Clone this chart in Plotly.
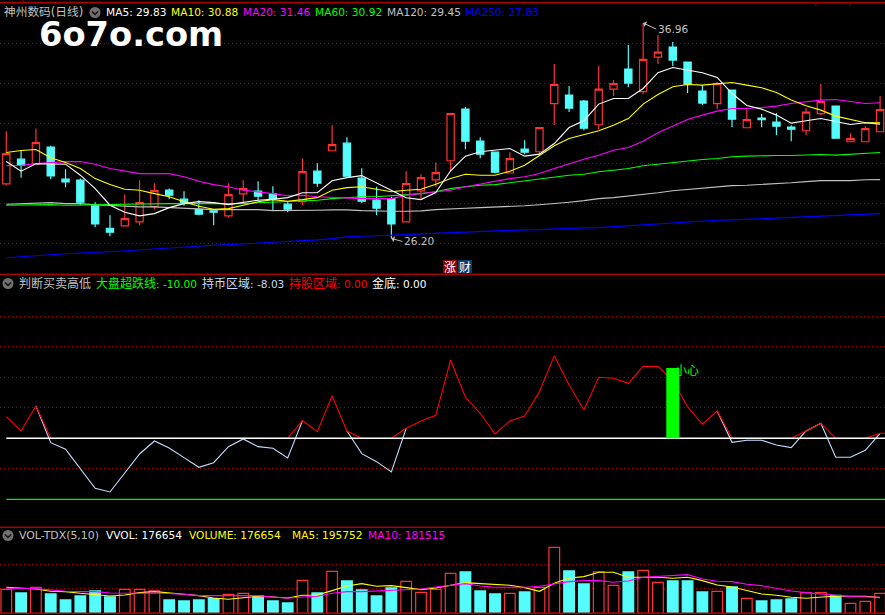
import plotly.graph_objects as go

W, H = 885, 615

open_ = [28.93,30.16,29.93,30.76,29.16,29.11,27.83,26.71,26.83,27.03,27.79,28.61,28.16,27.66,27.58,27.33,28.43,28.56,28.43,27.91,
         28.04,29.56,30.58,30.96,29.21,28.11,28.19,27.03,28.58,29.13,30.08,32.66,31.06,30.51,29.47,30.66,30.53,32.93,33.36,33.06,
         31.88,33.66,34.66,33.53,35.26,35.76,35.01,33.56,32.93,33.61,31.73,32.21,32.01,31.76,31.58,32.43,32.81,31.03,31.03,31.53]
close = [30.44,29.86,30.99,29.33,29.03,28.01,26.93,26.51,27.19,27.99,28.59,28.36,27.98,27.41,27.51,28.39,28.69,28.31,28.19,27.66,
         29.54,28.96,30.89,29.31,28.06,27.71,26.93,28.94,29.24,29.49,32.44,31.06,30.41,29.51,30.19,30.51,31.74,33.89,32.71,31.71,
         33.66,33.94,33.96,35.14,35.51,35.11,33.91,32.96,33.94,32.16,32.14,32.13,31.81,31.66,32.51,33.04,31.21,31.19,31.69,32.64]
high = [31.56,30.58,31.69,30.83,29.66,29.19,28.01,27.36,28.39,29.11,28.96,28.69,28.56,28.11,27.58,28.96,29.11,29.06,28.81,28.01,
        30.19,29.96,31.86,31.26,29.71,28.78,28.28,29.56,29.41,29.99,32.44,32.76,31.26,30.51,30.51,31.11,31.74,34.91,33.81,33.11,
        34.81,34.11,35.86,36.96,36.36,36.01,35.01,33.86,34.01,33.61,32.61,32.41,32.46,31.86,32.71,33.91,32.81,31.46,31.81,33.31]
low = [28.86,29.23,29.93,29.16,28.76,27.86,26.76,26.31,26.83,26.86,27.66,28.16,27.83,27.36,26.86,27.23,27.93,28.11,27.59,27.51,
       27.86,28.78,30.58,29.31,27.96,27.36,26.20,27.03,28.14,28.78,29.53,30.66,30.21,29.44,29.47,30.41,30.41,31.86,32.51,31.61,
       31.66,33.31,33.76,33.41,34.91,34.81,33.46,32.86,32.66,31.76,31.73,31.76,31.36,31.06,31.36,32.36,31.21,31.03,31.03,31.53]

ma5 = [30.04,29.56,29.93,29.93,29.91,29.36,28.69,27.86,27.51,27.33,27.44,27.74,27.94,28.04,27.99,27.89,27.99,28.11,28.16,28.24,
       28.48,28.49,29.08,29.24,29.34,28.98,28.58,28.23,28.14,28.49,29.58,30.31,30.53,30.61,30.69,30.31,30.41,30.94,31.74,32.08,
       32.91,33.19,33.19,33.69,34.48,34.74,34.61,34.48,34.24,33.44,32.84,32.66,32.36,31.96,32.08,32.19,32.04,31.89,31.98,31.91]
ma10 = [30.49,30.59,30.64,30.23,29.99,29.69,29.19,28.89,28.66,28.61,28.44,28.28,28.03,27.81,27.66,27.69,27.86,28.03,28.14,28.06,
        28.14,28.24,28.61,28.74,28.78,28.66,28.53,28.61,28.66,28.91,29.19,29.41,29.36,29.36,29.56,29.86,30.36,30.83,31.19,31.39,
        31.58,31.86,32.19,32.91,33.39,33.78,33.89,33.86,33.94,33.99,33.86,33.73,33.49,33.11,32.83,32.61,32.31,32.14,31.98,31.98]
ma20 = [29.84,29.86,29.94,29.99,30.04,30.04,29.91,29.69,29.58,29.44,29.44,29.44,29.28,29.06,28.89,28.78,28.61,28.53,28.44,28.33,
        28.36,28.28,28.24,28.23,28.19,28.19,28.19,28.36,28.44,28.53,28.61,28.78,28.91,29.03,29.19,29.28,29.44,29.69,29.94,30.16,
        30.36,30.61,30.74,31.06,31.48,31.81,32.14,32.36,32.56,32.69,32.69,32.74,32.81,32.94,33.03,33.11,33.14,33.03,32.94,32.98]
ma60 = [27.86,27.88,27.89,27.89,27.86,27.86,27.88,27.89,27.91,27.93,27.93,27.94,27.94,27.94,27.94,27.94,27.94,27.98,28.01,28.04,
        28.08,28.11,28.19,28.23,28.28,28.28,28.33,28.39,28.44,28.53,28.69,28.78,28.86,28.89,28.98,29.08,29.19,29.28,29.36,29.41,
        29.53,29.61,29.69,29.83,29.91,29.99,30.08,30.14,30.19,30.28,30.31,30.34,30.34,30.34,30.36,30.39,30.36,30.41,30.46,30.49]
ma120 = [27.91,27.94,27.94,27.99,27.94,27.94,27.88,27.84,27.81,27.78,27.78,27.74,27.69,27.66,27.64,27.64,27.64,27.64,27.59,27.59,
         27.59,27.61,27.63,27.63,27.59,27.56,27.56,27.56,27.58,27.64,27.69,27.71,27.74,27.76,27.78,27.83,27.88,27.93,28.01,28.09,
         28.19,28.24,28.31,28.39,28.48,28.58,28.64,28.73,28.78,28.84,28.86,28.89,28.94,28.98,29.04,29.09,29.09,29.09,29.13,29.14]
ma250 = [25.24,25.28,25.33,25.39,25.44,25.49,25.51,25.54,25.59,25.64,25.69,25.74,25.79,25.83,25.86,25.89,25.93,25.96,25.99,26.04,
         26.08,26.13,26.19,26.28,26.31,26.33,26.34,26.39,26.43,26.46,26.49,26.53,26.56,26.58,26.59,26.63,26.64,26.68,26.69,26.73,
         26.74,26.79,26.84,26.89,26.94,26.98,27.03,27.06,27.11,27.13,27.16,27.19,27.21,27.24,27.26,27.31,27.34,27.38,27.41,27.44]
price_ticks = [35.96, 33.96, 31.96, 29.96, 27.96, 25.96]

hold_stock = [3.55,1.20,5.30,0,0,0,0,0,0,0,0,0,0,0,0,0,0,0,0,0,
              2.90,1.09,6.99,1.20,0,0,0,1.64,2.84,3.77,12.84,6.72,4.10,0.71,2.84,3.66,7.65,13.55,8.74,4.64,
              10.00,9.84,9.02,11.80,11.80,9.45,5.19,2.30,4.48,0,0,0,0,0,1.20,2.46,0,0,0,0.82,0.82]
hold_cash = [None,None,5.30,-0.71,-1.80,-5.03,-8.20,-8.80,-5.74,-2.57,-0.44,-1.58,-3.17,-4.75,-3.99,-1.37,-0.11,-1.37,-1.64,-3.22,
             2.90,None,None,1.20,-2.51,-3.83,-5.52,1.64,None,None,None,None,None,None,None,None,None,None,None,None,
             None,None,None,None,None,None,None,None,4.48,-0.66,-0.33,-0.33,-1.09,-1.53,1.20,2.46,-3.11,-3.11,-1.97,0.82]
gold_floor = [0] * 61
oversold = [-10] * 61
caution_x = [45, 45]
caution_y = [0, 11.53]
osc_ticks = [-5, 5, 10, 15, 20]

vol = [201600,170800,218400,162400,112000,145600,187600,137200,201600,201600,187600,112000,103600,112000,123200,159600,168000,145600,103600,86800,
       277200,170800,352800,271600,196000,145600,212800,268800,176400,201600,336000,347200,187600,162400,168000,179200,218400,554400,355600,246400,
       347200,235200,347200,361200,260400,271600,271600,179200,184800,221200,126000,103600,112000,120400,173600,173600,151200,84000,100800,168000]
vol_ma5 = [218400,210000,204400,184800,182000,168000,159600,145600,154000,173600,182000,168000,159600,148400,128800,117600,131600,142800,137200,128800,
           151200,154000,190400,229600,249200,226800,232400,218400,198800,212800,238000,257600,249200,243600,235200,215600,184800,252000,296800,308000,
           344400,344400,302400,302400,302400,294000,302400,274400,238000,221200,190400,162400,151200,134400,126000,134400,145600,142800,142800,131600]
vol_ma10 = [210000,210000,207200,196000,184800,182000,182000,170800,168000,168000,170800,168000,159600,148400,148400,148400,148400,148400,137200,126000,
            137200,142800,168000,182000,182000,187600,196000,204400,204400,221200,232400,249200,229600,218400,218400,218400,226800,249200,266000,274400,
            274400,260400,271600,302400,310800,319200,324800,288400,268800,266000,243600,232400,210000,187600,173600,165200,151200,140000,137200,134400]
vol_ticks = [210000, 411600]

RED, CYAN = "#ff3232", "#54fcfc"
GRID, SEP = "#a00000", "#a80000"
xs = list(range(60))
xs_ext = list(range(61))

fig = go.Figure()
fig.add_trace(go.Candlestick(
    x=xs, open=open_, high=high, low=low, close=close, xaxis="x", yaxis="y",
    increasing=dict(line=dict(color=RED, width=1.2), fillcolor="#000000"),
    decreasing=dict(line=dict(color=CYAN, width=1.2), fillcolor=CYAN),
    hoverinfo="skip", showlegend=False))
for series, color in [(ma250, "#0000ff"), (ma120, "#c0c0c0"), (ma60, "#00ff00"),
                      (ma20, "#ff00ff"), (ma10, "#ffff00"), (ma5, "#ffffff")]:
    fig.add_trace(go.Scatter(x=xs, y=series, mode="lines", xaxis="x", yaxis="y",
                             line=dict(color=color, width=1.1), hoverinfo="skip", showlegend=False))

fig.add_trace(go.Scatter(x=xs, y=hold_cash, mode="lines", xaxis="x2", yaxis="y2", connectgaps=False,
                         line=dict(color="#c4dcff", width=1.1), hoverinfo="skip", showlegend=False))
fig.add_trace(go.Scatter(x=xs_ext, y=hold_stock, mode="lines", xaxis="x2", yaxis="y2",
                         line=dict(color="#ff0000", width=1.1), hoverinfo="skip", showlegend=False))
fig.add_trace(go.Scatter(x=xs_ext, y=oversold, mode="lines", xaxis="x2", yaxis="y2",
                         line=dict(color="#00f000", width=1.3), hoverinfo="skip", showlegend=False))
fig.add_trace(go.Scatter(x=xs_ext, y=gold_floor, mode="lines", xaxis="x2", yaxis="y2",
                         line=dict(color="#ffffff", width=1.4), hoverinfo="skip", showlegend=False))
fig.add_trace(go.Scatter(x=caution_x, y=caution_y, mode="lines", xaxis="x2", yaxis="y2",
                         line=dict(color="#00ff00", width=13), hoverinfo="skip", showlegend=False))

up = [c >= o for o, c in zip(open_, close)]
fig.add_trace(go.Bar(x=xs, y=vol, xaxis="x3", yaxis="y3", width=0.72,
                     marker=dict(color=["#000000" if u else CYAN for u in up],
                                 line=dict(color=[RED if u else CYAN for u in up], width=1.2)),
                     hoverinfo="skip", showlegend=False))
fig.add_trace(go.Scatter(x=xs, y=vol_ma5, mode="lines", xaxis="x3", yaxis="y3",
                         line=dict(color="#ffff00", width=1.1), hoverinfo="skip", showlegend=False))
fig.add_trace(go.Scatter(x=xs, y=vol_ma10, mode="lines", xaxis="x3", yaxis="y3",
                         line=dict(color="#ff00ff", width=1.1), hoverinfo="skip", showlegend=False))


def py(p):
    return 1 - p / H


def dom(top, bottom):
    return [py(bottom), py(top)]


xr = [-0.425, 59.33]
xcommon = dict(range=xr, visible=False, fixedrange=True)
ycommon = dict(showticklabels=False, ticks="", zeroline=False, showline=False, fixedrange=True,
               showgrid=True, gridcolor=GRID, griddash="1px,3px", gridwidth=1, tickmode="array")

annots, shapes = [], []
LATIN = 10.6


def label(x, y, text, color, size=LATIN, family="DejaVu Sans, Noto Sans CJK SC", anchor="left"):
    annots.append(dict(xref="paper", yref="paper", x=x / W, y=py(y), text=text, showarrow=False,
                       xanchor=anchor, yanchor="middle", font=dict(color=color, size=size, family=family)))


def mixed(x, y, cjk, rest, color):
    label(x, y, f"{cjk}<span style='font-size:{LATIN}px'>{rest}</span>", color, 12)


label(1.5, 12.5, "神州数码(日线)", "#c0c0c0", 11.7)
label(103.5, 12.5, "MA5: 29.83", "#ffffff")
label(168.5, 12.5, "MA10: 30.88", "#ffff00")
label(240.5, 12.5, "MA20: 31.46", "#ff00ff")
label(312.5, 12.5, "MA60: 30.92", "#00ff00")
label(384.5, 12.5, "MA120: 29.45", "#c0c0c0")
label(463.5, 12.5, "MA250: 27.83", "#0000ff")
label(37, 34, "6o7o.com", "#ffffff", 33.7, "DejaVu Sans")
annots[-1]["font"]["weight"] = 700

label(16.5, 283, "判断买卖高低", "#c0c0c0", 12)
mixed(93.5, 283, "大盘超跌线", ": -10.00", "#00ff00")
mixed(199.5, 283, "持币区域", ": -8.03", "#c4dcff")
mixed(286.5, 283, "持股区域", ": 0.00", "#ff0000")
mixed(369.5, 283, "金底", ": 0.00", "#ffffff")

label(16.5, 535, "VOL-TDX(5,10)", "#c0c0c0", 10.9)
label(103.5, 535, "VVOL: 176654", "#ffffff")
label(186.5, 535, "VOLUME: 176654", "#ffff00")
label(289.5, 535, "MA5: 195752", "#ffff00")
label(365.5, 535, "MA10: 181515", "#ff00ff")

annots.append(dict(xref="x2", yref="paper", x=45, y=py(369), text="小心", showarrow=False, xanchor="left",
                   yanchor="middle", font=dict(color="#00ff00", size=12, family="Noto Sans CJK SC")))
for xi, yv, txt, dx, dy in [(43, 36.96, "36.96", 13, 6), (26, 26.20, "26.20", 11, 3)]:
    annots.append(dict(xref="x", yref="y", x=xi, y=yv, text=txt, showarrow=True, axref="pixel", ayref="pixel",
                       ax=dx, ay=dy, xanchor="left", yanchor="middle", arrowcolor="#c0c0c0", arrowhead=1,
                       arrowsize=1, arrowwidth=1, startstandoff=0, standoff=0,
                       font=dict(color="#c0c0c0", size=LATIN, family="DejaVu Sans")))

# badge tiles
for x0, x1, bg, ch in [(443, 457, "#8b0000", "涨"), (458, 472, "#0a3c6e", "财")]:
    shapes.append(dict(type="rect", xref="paper", yref="paper", x0=x0 / W, x1=x1 / W, y0=py(273), y1=py(260),
                       fillcolor=bg, line=dict(width=0), layer="above"))
    label((x0 + x1) / 2, 266.5, ch, "#ffffff", 12, "Noto Sans CJK SC", "center")

# panel separators
for yp in [2.5, 274.3, 527.3, 613.3]:
    shapes.append(dict(type="line", xref="paper", yref="paper", x0=0, x1=1, y0=py(yp), y1=py(yp),
                       line=dict(color=SEP, width=1.5), layer="above"))
for xp in [816, 850]:
    shapes.append(dict(type="line", xref="paper", yref="paper", x0=xp / W, x1=xp / W, y0=py(2), y1=py(6),
                       line=dict(color=SEP, width=1), layer="above"))
shapes.append(dict(type="line", xref="paper", yref="paper", x0=23 / W, x1=23 / W, y0=py(0), y1=py(2),
                   line=dict(color=SEP, width=1), layer="above"))
for xp in [227, 290, 353, 479, 561, 642, 724]:
    shapes.append(dict(type="line", xref="paper", yref="paper", x0=xp / W, x1=xp / W, y0=py(613), y1=py(615),
                       line=dict(color=SEP, width=1), layer="above"))

# collapse icons
for cx, cy in [(95, 12.5), (8, 283.5), (8, 535.5)]:
    shapes.append(dict(type="circle", xref="paper", yref="paper", x0=(cx - 5.5) / W, x1=(cx + 5.5) / W,
                       y0=py(cy + 5.5), y1=py(cy - 5.5), fillcolor="#707070", line=dict(width=0), layer="above"))
    pts = [(cx - 3, cy - 1), (cx, cy + 2), (cx + 3, cy - 1)]
    shapes.append(dict(type="path", xref="paper", yref="paper", layer="above",
                       path="M" + " L".join(f"{px / W:.5f},{py(pyy):.5f}" for px, pyy in pts),
                       line=dict(color="#111111", width=1.5)))

fig.update_layout(
    width=W, height=H, autosize=False, margin=dict(l=0, r=0, t=0, b=0),
    paper_bgcolor="#000000", plot_bgcolor="#000000", showlegend=False, bargap=0.28,
    xaxis=dict(domain=[0, 1], anchor="y", rangeslider=dict(visible=False), **xcommon),
    xaxis2=dict(domain=[0, 1], anchor="y2", **xcommon),
    xaxis3=dict(domain=[0, 1], anchor="y3", **xcommon),
    yaxis=dict(domain=dom(2.5, 274.3), range=[24.41, 37.985], tickvals=price_ticks, anchor="x", **ycommon),
    yaxis2=dict(domain=dom(274.3, 527.3), range=[-14.59, 26.89], tickvals=osc_ticks, anchor="x2", **ycommon),
    yaxis3=dict(domain=dom(527.3, 613.3), range=[0, 722400], tickvals=vol_ticks, anchor="x3", **ycommon),
    annotations=annots, shapes=shapes, hovermode=False,
)

fig.write_html("out.html", config={"displayModeBar": False},
               post_script="document.body.style.margin='0';document.body.style.background='#000';"
                           "document.documentElement.style.overflow='hidden';")
